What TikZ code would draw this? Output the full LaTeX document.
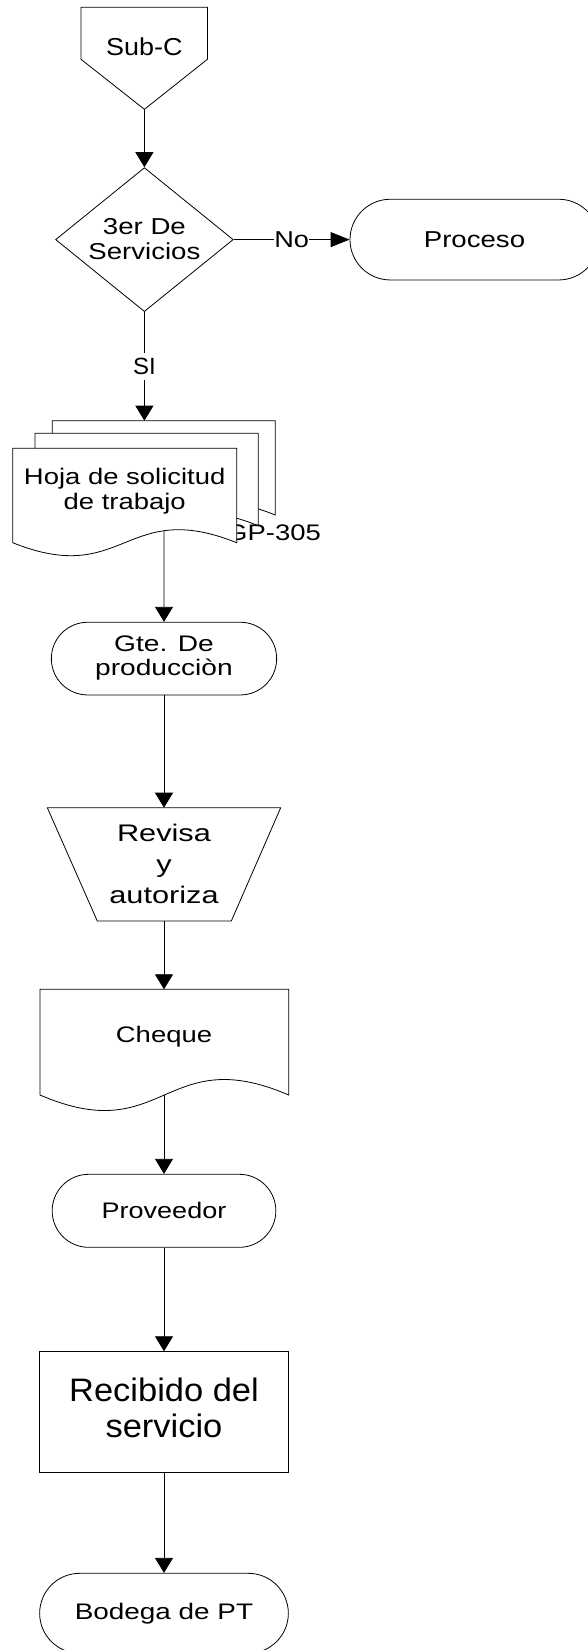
\documentclass[tikz,border=0pt]{standalone}
\usepackage{fontspec}
\setmainfont{Liberation Sans}
\usetikzlibrary{arrows.meta,shapes.geometric,intersections}

% horizontally stretched text
\newcommand\sx[2]{\scalebox{#1}[1]{#2}}
\newcommand\fsz[2]{\fontsize{#1}{#2}\selectfont}
% document symbol: left, top, right, bottom corner, wave depth
\newcommand\docpath[5]{(#1,#2) -- (#3,#2) -- (#3,#4)
  .. controls ({(#1+#3)/2},{#4-#5}) and ({(#1+#3)/2},{#4+#5}) .. (#1,#4) -- cycle}

\begin{document}
\begin{tikzpicture}[x=1pt,y=-1pt,line width=0.8pt,
  shp/.style={draw,fill=white},
  lbl/.style={inner sep=0pt,align=center},
  term/.style={shp,inner sep=0pt,minimum width=#1},
  varr/.style={-{Triangle[length=15pt,width=18pt]}},
  harr/.style={-{Triangle[length=19pt,width=15pt]}}]
\useasboundingbox (0,0) rectangle (588,1650);
\clip (0,0) rectangle (588,1650);

% off-page connector
\filldraw[fill=white] (81,7.3) -- (207.4,7.3) -- (207.4,59.3) -- (144.4,109.3) -- (81,59.3) -- cycle;
\coordinate (subtip) at (144.4,109.3);
\node[lbl,font=\fsz{24.5}{27}] (subc) at (144.4,47) {\sx{1.1}{Sub-C}};

% decision
\node[diamond,draw,fill=white,inner sep=0pt,minimum width=177.7pt,minimum height=144pt] (dia) at (144.4,239.6) {};
\node[lbl,font=\fsz{23}{25.6}] (diatext) at (144.4,242) {\sx{1.2}{\begin{tabular}{@{}c@{}}3er De\\Servicios\end{tabular}}};

% terminator to the right
\node[term=249pt,minimum height=80.7pt,rounded corners=40.3pt,font=\fsz{23}{26}] (proc) at (474.5,239.6) {\sx{1.2}{Proceso}};

\draw[harr] (dia.east) -- (proc.west)
  node[midway,fill=white,inner xsep=0.5pt,inner ysep=2pt,font=\fsz{23}{26}] (no) {\sx{1.18}{No}};

% stacked documents
\coordinate (stacktop) at (144.4,420.7);
\filldraw[fill=white] \docpath{52.3}{420.7}{275.3}{515}{45};
\filldraw[fill=white] \docpath{35}{433.3}{258.3}{525.7}{45};
\node[lbl,font=\fsz{22.5}{24}] (gp) at (273.5,533) {\sx{1.22}{GP-305}};
\filldraw[fill=white,name path=front] \docpath{12.7}{448.3}{236.7}{542.7}{45};
\node[lbl,font=\fsz{22.5}{25}] (hoja) at (124.7,491.5) {\sx{1.22}{\begin{tabular}{@{}c@{}}Hoja de solicitud\\de trabajo\end{tabular}}};
\path[name path=spine] (164,450) -- (164,600);
\path[name intersections={of=front and spine}] coordinate (hojaout) at (intersection-1);

\draw[varr] (subtip) -- (dia.north);
\draw[varr] (dia.south) -- (stacktop)
  node[midway,fill=white,inner xsep=1pt,inner ysep=5pt,font=\fsz{23.5}{26}] (si) {\sx{1.02}{SI}};

% production manager
\node[term=225.3pt,minimum height=72.7pt,rounded corners=36.3pt,font=\fsz{22.5}{24}] (gte) at (164,658.6)
  {\raisebox{-1.5pt}{\sx{1.25}{\begin{tabular}{@{}c@{}}Gte. De\\producciòn\end{tabular}}}};
\draw[varr] (hojaout) -- (gte.north);

% manual operation
\filldraw[fill=white] (47.3,807.7) -- (280.7,807.7) -- (231.3,921) -- (97.3,921) -- cycle;
\coordinate (revtop) at (164,807.7);
\coordinate (revbot) at (164,921);
\node[lbl,font=\fsz{24}{31}] (rev) at (164,866.5) {\sx{1.28}{\begin{tabular}{@{}c@{}}Revisa\\y\\autoriza\end{tabular}}};
\draw[varr] (gte.south) -- (revtop);

% cheque document
\filldraw[fill=white] \docpath{40}{989.3}{288.7}{1095}{53.7};
\coordinate (cheqtop) at (164,989.3);
\coordinate (cheqbot) at (164,1095);
\node[lbl,font=\fsz{22.5}{24}] (cheq) at (164,1037) {\sx{1.22}{Cheque}};
\draw[varr] (revbot) -- (cheqtop);

% supplier
\node[term=223.7pt,minimum height=73pt,rounded corners=36.5pt,font=\fsz{22.5}{24}] (prov) at (164,1210.8) {\raisebox{-1.5pt}{\sx{1.2}{Proveedor}}};
\draw[varr] (cheqbot) -- (prov.north);

% service received
\node[shp,inner sep=0pt,minimum width=248.7pt,minimum height=121pt,font=\fsz{32.5}{36}] (rec) at (164,1412.2)
  {\sx{1.06}{\begin{tabular}{@{}c@{}}Recibido del\\servicio\end{tabular}}};
\draw[varr] (prov.south) -- (rec.north);

% finished goods warehouse
\node[term=248.7pt,minimum height=80pt,rounded corners=40pt,font=\fsz{22.5}{24}] (bod) at (164,1613.3) {\raisebox{-1.5pt}{\sx{1.24}{Bodega de PT}}};
\draw[varr] (rec.south) -- (bod.north);
\end{tikzpicture}
\end{document}
